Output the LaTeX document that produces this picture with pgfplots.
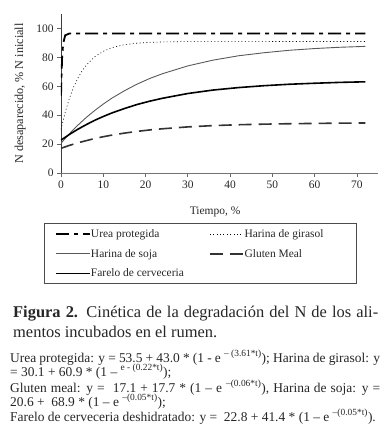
\documentclass[border=0pt]{standalone}
\usepackage{fontspec}
\setmainfont{Liberation Serif}
\usepackage{pgfplots}
\pgfplotsset{compat=1.18}
\newcommand{\legtxt}[2]{\makebox[#1bp][l]{\strut #2}}
\begin{document}
\begin{tikzpicture}[x=1bp,y=1bp]
\path (0,0) rectangle (389,-430);
\begin{axis}[
  at={(61bp,-173bp)}, anchor=south west,
  scale only axis, width=317bp, height=159bp,
  xmin=0, xmax=75, ymin=0, ymax=110,
  axis lines=left, axis line style={-},
  x axis line style={draw=black!55, line width=0.8bp},
  y axis line style={draw=brown!45!black, line width=0.8bp},
  xtick={0,10,...,70}, ytick={0,20,...,100},
  tick align=outside, major tick length=4bp,
  tick style={black!60, line width=0.6bp},
  tick label style={font=\fontsize{11.5}{12}\selectfont, text=black!85},
  /pgf/number format/assume math mode=true,
  xlabel={Tiempo, \%}, ylabel={N desaparecido, \% N iniciall},
  xlabel style={at={(axis description cs:0.486,-0.245)}, anchor=center, font=\fontsize{11.5}{12}\selectfont, text=black!85},
  ylabel style={at={(axis description cs:-0.129,0.5)}, anchor=center, font=\fontsize{12.2}{13}\selectfont, text=black!85},
  legend cell align=left,
  legend image code/.code={\draw[#1] (0bp,0bp) -- (34bp,0bp);},
  legend style={at={(axis description cs:-0.0568,-0.3207)}, anchor=north west,
    draw=none, fill=none,
    legend columns=2, font=\fontsize{11.5}{12}\selectfont, text=black!85,
    inner xsep=12bp, inner ysep=3bp,
    row sep=5.8bp,
    /tikz/every odd column/.style={column sep=-2bp},
    /tikz/column 2/.style={column sep=20bp}},
]
% Urea protegida
\addplot[black, line width=1.8bp, dash pattern=on 13bp off 5bp on 4bp off 5bp] coordinates {
(0,53.5)(0.25,79.1)(0.5,89.4)(1,95.3)(2,96.5)(72,96.5)};
\addlegendentry{\legtxt{96}{Urea protegida}}
% Harina de girasol
\addplot[black, line width=0.6bp, dash pattern=on 1bp off 2.4bp] coordinates {
(0,30.1)(1,42.1)(2,51.8)(3,59.5)(4,65.7)(5,70.7)(6,74.7)(8,80.5)(10,84.2)(12,86.7)(15,88.8)(18,89.8)(21,90.4)(24,90.7)(30,90.9)(72,91.0)};
\addlegendentry{\legtxt{89}{Harina de girasol}}
% Harina de soja
\addplot[black!65, line width=0.9bp] coordinates {
(0,20.6)(2,27.2)(4,33.1)(6,38.5)(8,43.3)(10,47.7)(12,51.7)(15,56.9)(18,61.5)(21,65.4)(24,68.7)(30,74.1)(36,78.1)(42,81.1)(48,83.2)(54,84.9)(60,86.1)(66,87.0)(72,87.6)};
\addlegendentry{\legtxt{96}{Harina de soja}}
% Gluten meal
\addplot[black!80, line width=1.6bp, dash pattern=on 13bp off 7bp] coordinates {
(0,17.1)(2,19.1)(4,20.9)(6,22.4)(8,23.9)(10,25.1)(12,26.2)(15,27.6)(18,28.8)(21,29.8)(24,30.6)(30,31.9)(36,32.8)(42,33.4)(48,33.8)(54,34.1)(60,34.3)(66,34.5)(72,34.6)};
\addlegendentry{\legtxt{89}{Gluten Meal}}
% Farelo de cerveceria
\addplot[black, line width=1.6bp] coordinates {
(0,22.8)(2,26.7)(4,30.3)(6,33.5)(8,36.5)(10,39.1)(12,41.5)(15,44.6)(18,47.4)(21,49.7)(24,51.7)(30,55.0)(36,57.4)(42,59.1)(48,60.4)(54,61.4)(60,62.1)(66,62.7)(72,63.1)};
\addlegendentry{\legtxt{96}{Farelo de cerveceria}}
\end{axis}
\draw[black!70, line width=0.8bp] (44,-223) rectangle (356,-283);
\begin{scope}[every node/.style={anchor=base west, inner sep=0pt, text=black!85}]
\node[font=\fontsize{16.5}{20}\selectfont] at (13,-317) {\makebox[365bp][s]{\textbf{Figura 2.} Cinética de la degradación del N de los ali-}};
\node[font=\fontsize{16.5}{20}\selectfont] at (13,-337) {mentos incubados en el rumen.};
\node[font=\fontsize{13.5}{15}\selectfont] at (10,-362) {\makebox[370bp][s]{Urea protegida: y = 53.5 + 43.0 * (1 - e \textsuperscript{– (3.61*t)}); Harina de girasol: y}};
\node[font=\fontsize{13.5}{15}\selectfont] at (10,-376) {= 30.1 + 60.9 * (1 – \textsuperscript{e - (0.22*t)});};
\node[font=\fontsize{13.5}{15}\selectfont] at (10,-392) {\makebox[370bp][s]{Gluten meal: y = \ 17.1 + 17.7 * (1 – e \textsuperscript{–(0.06*t)}), Harina de soja: y =}};
\node[font=\fontsize{13.5}{15}\selectfont] at (10,-406) {20.6 + \ 68.9 * (1 – e \textsuperscript{–(0.05*t)});};
\node[font=\fontsize{13.5}{15}\selectfont] at (10,-421) {Farelo de cerveceria deshidratado: y = \ 22.8 + 41.4 * (1 – e \textsuperscript{–(0.05*t)}).};
\end{scope}
\end{tikzpicture}
\end{document}
